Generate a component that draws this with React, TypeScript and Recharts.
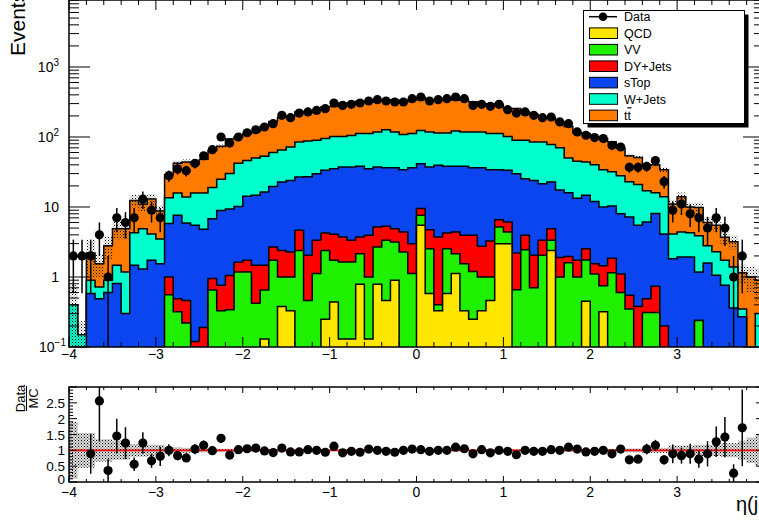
import React from "react";
import {
  ComposedChart, Area, Scatter, ErrorBar, XAxis, YAxis, ReferenceArea, ReferenceLine,
} from "recharts";

// 80 bins of 0.1 in eta(jet), from -4 to 4
const binLow = -4;
const binWidth = 0.1;

// stacked MC contributions per bin (bottom -> top)
const qcd = [
  0, 0, 0, 0, 0, 0, 0, 0, 0, 0,
  0, 0, 0, 0, 0, 0, 0, 0, 0, 0,
  0, 0, 0.13, 0, 0.38, 0.33, 0, 0, 0, 0.25,
  0.44, 0.13, 0.13, 0.79, 0.13, 0.79, 0.46, 0.9, 0, 0,
  5.47, 0.58, 0.33, 0.58, 1.12, 0.33, 0.25, 0.33, 0.46, 2.99,
  2.99, 0, 0, 0, 0, 2.4, 0, 0, 0, 0.45,
  0, 0.32, 0, 0, 0, 0, 0, 0, 0, 0,
  0, 0, 0, 0, 0, 0, 0, 0, 0, 0,
];
const vv = [
  0, 0, 0, 0, 0, 0, 0, 0, 0, 0,
  0, 0.56, 0.32, 0.22, 0, 0, 0.65, 0.33, 0.34, 1.18,
  1.18, 0.42, 0.52, 1.73, 0.62, 0.67, 2.4, 0.46, 1.12, 2.15,
  1.29, 1.51, 1.51, 1.36, 0.87, 1.89, 2.88, 2.26, 2.28, 1.12,
  2.13, 1.96, 0.07, 1.96, 1.03, 1.22, 0.95, 0.67, 0.54, 2.21,
  1.41, 0.66, 2.45, 0.7, 2.04, 0.94, 1.0, 1.6, 1.0, 1.3,
  1.1, 0.43, 1.15, 0.6, 0.35, 0, 0.31, 0.31, 0, 0,
  0, 0, 0.24, 0, 0, 0, 0, 0, 0, 0,
];
const dyJets = [
  0, 0, 0, 0, 0, 0, 0, 0, 0, 0,
  0, 0.44, 0.17, 0.24, 0.12, 0.19, 0.3, 0.43, 0.71, 0.45,
  0.55, 1.05, 0.82, 0.95, 1.4, 1.28, 2.24, 1.58, 2.22, 1.85,
  2.34, 2.09, 1.7, 1.58, 2.94, 2.5, 1.96, 1.74, 2.12, 1.87,
  1.9, 2.2, 3.33, 1.71, 2.25, 2.39, 2.74, 1.74, 2.27, 1.4,
  1.7, 1.54, 1.49, 1.34, 1.3, 1.56, 0.9, 0.37, 0.73, 0.79,
  0.45, 0.7, 0.7, 0.5, 0.2, 0.38, 0.18, 0.43, 0.2, 0,
  0, 0, 0, 0, 0, 0, 0, 0, 0, 0,
];
const sTop = [
  0, 0, 0.58, 0.49, 0.6, 0.81, 0.3, 1.47, 1.3, 1.73,
  1.55, 4.8, 7.11, 5.44, 5.38, 4.61, 5.85, 8.14, 8.35, 8.57,
  12.47, 13.23, 14.93, 17.02, 20.3, 21.72, 22.16, 24.96, 26.56, 29.15,
  31.23, 33.57, 33.96, 34.37, 31.36, 32.12, 31.2, 31.6, 29.7, 33.51,
  32.1, 32.56, 35.67, 33.85, 33.7, 34.16, 32.56, 33.76, 30.83, 27.5,
  27.3, 27.7, 21.46, 21.96, 18.16, 17.8, 15.6, 14.03, 11.57, 12.16,
  10.45, 8.55, 8.45, 6.9, 6.65, 5.12, 5.61, 7.36, 3.9, 1.83,
  1.93, 1.93, 0.94, 1.59, 1.06, 0.76, 0.36, 0.27, 0, 0,
];
const wJets = [
  0.4, 0.15, 0.32, 0.23, 0.3, 0.66, 0.88, 2.83, 3.6, 2.37,
  1.95, 7.8, 8.2, 8.0, 10.3, 11.0, 12.2, 16.1, 20.6, 31.8,
  31.8, 35.3, 36.6, 40.3, 42.3, 48, 58.2, 61, 60.1, 61.6,
  66.7, 64.7, 67.7, 73.9, 76.7, 80.7, 90.5, 81.5, 74.9, 75.5,
  82.4, 80.7, 74.6, 75.9, 83.9, 79.9, 81.5, 81.5, 77.9, 77.9,
  68.6, 60.1, 64.6, 61, 63.5, 55.3, 52.5, 34, 31.7, 29.3,
  28, 24, 21.7, 20, 15.8, 15.5, 10.9, 7.9, 9.9, 2.27,
  2.47, 2.37, 2.72, 1.21, 1.24, 0.97, 1.03, 0.08, 0, 0.3,
];
const ttbar = [
  0, 0, 1.3, 0.83, 1.9, 3.43, 3.72, 8.1, 6.1, 8.9,
  5.3, 15.4, 26.2, 30.1, 25.2, 32.2, 45, 49, 64, 58,
  64, 69, 88, 106, 125, 127, 145, 136, 150, 175,
  170, 204, 197, 213, 202, 223, 210, 218, 207, 227,
  242, 219, 227, 239, 217, 218, 200, 169, 186, 181,
  152, 166, 138, 125, 110, 111, 94, 91, 68, 68,
  61, 61, 53, 41, 31, 30, 23, 24, 20, 6.9,
  9.6, 5.7, 5.9, 3.2, 3.2, 1.97, 1.81, 0.8, 1.0, 0.6,
];
// observed events per bin
const dataCounts = [
  2, 2, 2, 4, 1, 7, 6, 7, 13, 9,
  7, 28, 35, 33, 42, 54, 66, 100, 82, 100,
  115, 127, 139, 155, 204, 189, 220, 228, 240, 254,
  306, 283, 293, 306, 327, 341, 327, 316, 316, 353,
  373, 327, 341, 353, 373, 353, 283, 293, 274, 293,
  246, 220, 228, 204, 189, 193, 164, 155, 118, 106,
  98, 95, 76, 72, 37, 37, 38, 46, 23, 9,
  11, 8, 7, 5, 7, 5, 1, 2, 0, 0,
];
// Data/MC as drawn in the lower pad (null = off scale)
const ratio: (number | null)[] = [
  null, null, 0.89, 2.56, 0.36, 1.45, 1.23, 0.56, 1.23, 0.67,
  0.81, 1.0, 0.83, 0.76, 1.04, 1.16, 0.99, 1.38, 0.85, 1.02,
  1.05, 1.07, 0.98, 0.93, 1.07, 0.95, 0.95, 1.02, 1.0, 0.94,
  1.13, 0.92, 0.97, 0.94, 1.04, 1.0, 0.97, 0.94, 1.0, 1.04,
  1.02, 0.97, 1.0, 1.0, 1.1, 1.05, 0.89, 1.02, 0.92, 1.0,
  0.97, 0.86, 1.0, 0.97, 0.97, 1.02, 1.0, 1.1, 1.04, 0.95,
  0.97, 1.0, 0.89, 1.04, 0.7, 0.72, 1.04, 1.16, 0.7, 0.89,
  0.83, 0.89, 0.72, 0.89, 1.27, 1.42, 0.28, 1.71, null, null,
];
// relative MC uncertainty (hatched band)
const mcUnc = [
  0.9, 0.55, 0.55, 0.35, 0.35, 0.3, 0.3, 0.2, 0.2, 0.18,
  0.18, 0.1, 0.1, 0.08, 0.08, 0.06, 0.06, 0.05, 0.05, 0.04,
  0.03, 0.03, 0.03, 0.03, 0.03, 0.03, 0.03, 0.03, 0.03, 0.03,
  0.03, 0.03, 0.03, 0.03, 0.03, 0.03, 0.03, 0.03, 0.03, 0.03,
  0.03, 0.03, 0.03, 0.03, 0.03, 0.03, 0.03, 0.03, 0.03, 0.03,
  0.03, 0.03, 0.03, 0.03, 0.03, 0.03, 0.03, 0.03, 0.03, 0.04,
  0.04, 0.04, 0.04, 0.04, 0.06, 0.06, 0.08, 0.08, 0.08, 0.15,
  0.15, 0.15, 0.18, 0.18, 0.18, 0.22, 0.22, 0.3, 0.4, 0.5,
];

const samples = [
  { name: "QCD", values: qcd, color: "#ffe600" },
  { name: "VV", values: vv, color: "#1ef000" },
  { name: "DY+Jets", values: dyJets, color: "#ff0000" },
  { name: "sTop", values: sTop, color: "#0a45f0" },
  { name: "W+Jets", values: wJets, color: "#00ffcc" },
  { name: "tt", values: ttbar, color: "#ff7a00" },
];

const FONT = '"Liberation Sans", Arial, Helvetica, sans-serif';
const X0 = 69;
const X1 = 764;
const M_TOP = 0;
const M_BOT = 347;
const R_TOP = 7;
const R_BOT = 102;
const Y_MIN = 0.1;
const Y_MAX = 9060;
const FLOOR = 1e-3;
const nBins = dataCounts.length;

const edge = (k: number) => Math.round((binLow + k * binWidth) * 10) / 10;
const center = (i: number) => Math.round((binLow + (i + 0.5) * binWidth) * 100) / 100;

// step rows at bin low edges, plus closing edge
const rows = Array.from({ length: nBins + 1 }, (_, k) => {
  const i = Math.min(k, nBins - 1);
  const row: any = { x: edge(k) };
  let cum = 0;
  samples.forEach((s, j) => {
    cum += s.values[i];
    row["c" + j] = Math.max(cum, FLOOR);
  });
  const u = mcUnc[i];
  row.band = [Math.max(cum * (1 - u), FLOOR), Math.max(cum * (1 + u), FLOOR)];
  row.rband = [1 - u, 1 + u];
  return row;
});

// error bars stop at the bottom of the log pad
const points = dataCounts
  .map((d, i) => (d > 0 ? { x: center(i), y: d, err: [Math.min(Math.sqrt(d), d - Y_MIN), Math.sqrt(d)] } : null))
  .filter(Boolean);

const ratioPoints = ratio
  .map((r, i) => {
    if (r == null) return null;
    const e = r / Math.sqrt(dataCounts[i]);
    return { x: center(i), y: r, err: [Math.min(e, r), Math.min(e, 3 - r)] };
  })
  .filter(Boolean);

const xTicks = Array.from({ length: 41 }, (_, k) => edge(2 * k));
const yTicks: number[] = [];
[0.1, 1, 10, 100, 1000].forEach((d) => {
  for (let m = 1; m <= 9; m++) {
    const v = +(d * m).toPrecision(3);
    if (v <= Y_MAX) yTicks.push(v);
  }
});
const rTicks = Array.from({ length: 31 }, (_, k) => k / 10);

const isInt = (v: number) => Math.abs(v - Math.round(v)) < 1e-6;
const fmtX = (v: number) => (v < 0 ? "\u2212" + Math.abs(v) : String(v));

const yLabels: Record<string, [string, string]> = {
  "0.1": ["10", "\u22121"],
  "1": ["1", ""],
  "10": ["10", ""],
  "100": ["10", "2"],
  "1000": ["10", "3"],
};

const MainXTick = (p: any) => {
  const v = p.payload.value;
  const x = p.x;
  const major = isInt(v);
  const len = major ? 10 : 5;
  return (
    <g>
      <line x1={x} x2={x} y1={M_BOT} y2={M_BOT - len} stroke="#000" />
      <line x1={x} x2={x} y1={M_TOP} y2={M_TOP + len} stroke="#000" />
      {major && v < 4 && (
        <text x={x} y={359} textAnchor="middle" fontSize={14} fontFamily={FONT}>{fmtX(v)}</text>
      )}
    </g>
  );
};

const MainYTick = (p: any) => {
  const v = p.payload.value;
  const y = p.y;
  const lab = yLabels[String(v)];
  const len = lab ? 21 : 10;
  return (
    <g>
      <line x1={X0} x2={X0 + len} y1={y} y2={y} stroke="#000" />
      <line x1={X1} x2={X1 - len} y1={y} y2={y} stroke="#000" />
      {lab && (
        <text x={v === 0.1 ? 66 : 59} y={y + 5} textAnchor="end" fontSize={14} fontFamily={FONT}>
          {lab[0]}
          {lab[1] && <tspan dy={-6} fontSize={10}>{lab[1]}</tspan>}
        </text>
      )}
    </g>
  );
};

const RatioXTick = (p: any) => {
  const v = p.payload.value;
  const x = p.x;
  const major = isInt(v);
  const len = major ? 6 : 3;
  return (
    <g>
      <line x1={x} x2={x} y1={R_BOT} y2={R_BOT - len} stroke="#000" />
      <line x1={x} x2={x} y1={R_TOP} y2={R_TOP + len} stroke="#000" />
      {major && v < 4 && (
        <text x={x} y={117} textAnchor="middle" fontSize={14} fontFamily={FONT}>{fmtX(v)}</text>
      )}
    </g>
  );
};

const RatioYTick = (p: any) => {
  const v = p.payload.value;
  const y = p.y;
  const major = isInt(v * 2);
  const len = major ? 8 : 4;
  return (
    <g>
      <line x1={X0} x2={X0 + len} y1={y} y2={y} stroke="#000" />
      <line x1={X1} x2={X1 - len} y1={y} y2={y} stroke="#000" />
      {major && v < 3 && (
        <text x={65} y={v === 0 ? y + 2 : y + 5} textAnchor="end" fontSize={13.5} fontFamily={FONT}>{String(v)}</text>
      )}
    </g>
  );
};

const Dot = (p: any) => <circle cx={p.cx} cy={p.cy} r={4.6} fill="#000" />;

function Legend() {
  const rowY = [6.7, 23.2, 39.7, 56.2, 72.6, 89, 105.4];
  return (
    <svg width={175} height={125} style={{ position: "absolute", left: 583, top: 10 }}>
      <rect x={4.5} y={4.5} width={161} height={113} fill="#000" />
      <rect x={0.5} y={0.5} width={161} height={113} fill="#fff" stroke="#000" />
      <line x1={6} x2={34} y1={rowY[0]} y2={rowY[0]} stroke="#000" strokeWidth={1.5} />
      <circle cx={20} cy={rowY[0]} r={4.3} fill="#000" />
      <text x={41} y={rowY[0] + 4.5} fontSize={12.5} fontFamily={FONT}>Data</text>
      {samples.map((s, j) => {
        const cy = rowY[j + 1];
        return (
          <g key={s.name}>
            <rect x={6.5} y={cy - 5.3} width={28} height={10.6} fill={s.color} stroke="#000" />
            <text x={41} y={cy + 4.5} fontSize={12.5} fontFamily={FONT}>{s.name}</text>
          </g>
        );
      })}
      <line x1={44.4} x2={48.4} y1={rowY[6] - 7.6} y2={rowY[6] - 7.6} stroke="#000" strokeWidth={1.2} />
    </svg>
  );
}

export default function App() {
  const order = [5, 4, 3, 2, 1, 0];
  return (
    <div style={{ position: "absolute", left: 0, top: 0, width: 759, height: 521, overflow: "hidden", background: "#fff" }}>
      <svg width={759} height={521} style={{ position: "absolute", left: 0, top: 0 }}>
        <defs>
          <pattern id="hatch" width={3} height={3} patternUnits="userSpaceOnUse">
            <rect x={0} y={0} width={1} height={1} fill="#000" />
            <rect x={1.5} y={1.5} width={1} height={1} fill="#555" />
          </pattern>
          <pattern id="hatchR" width={3} height={3} patternUnits="userSpaceOnUse">
            <rect x={0} y={0} width={3} height={3} fill="#ddd" />
            <rect x={0} y={0} width={1} height={1} fill="#000" />
            <rect x={1.5} y={1.5} width={1} height={1} fill="#444" />
          </pattern>
        </defs>
        <text transform="translate(25,56) rotate(-90)" fontSize={21} fontFamily={FONT}>Events</text>
        <text transform="translate(25,398.5) rotate(-90)" textAnchor="middle" fontSize={13} fontFamily={FONT}>Data</text>
        <line x1={26.5} x2={26.5} y1={386} y2={411} stroke="#000" />
        <text transform="translate(37.5,398.5) rotate(-90)" textAnchor="middle" fontSize={13} fontFamily={FONT}>MC</text>
        <text x={736} y={511} fontSize={20} fontFamily={FONT}>η(jet)</text>
      </svg>

      <div style={{ position: "absolute", left: 0, top: 0 }}>
        <ComposedChart width={800} height={400} data={rows} margin={{ top: M_TOP, right: 800 - X1, bottom: 23, left: 0 }}>
          {order.map((j) => (
            <Area
              key={j}
              type="stepAfter"
              dataKey={"c" + j}
              fill={samples[j].color}
              fillOpacity={1}
              stroke="#000"
              strokeWidth={1.5}
              baseValue={Y_MIN}
              dot={false}
              activeDot={false}
              isAnimationActive={false}
            />
          ))}
          <Area type="stepAfter" dataKey="band" fill="url(#hatch)" fillOpacity={1} stroke="none" dot={false} activeDot={false} isAnimationActive={false} />
          <Scatter data={points as any[]} dataKey="y" shape={Dot} isAnimationActive={false}>
            <ErrorBar dataKey="err" direction="y" width={0} stroke="#000" strokeWidth={1.5} isAnimationActive={false} />
          </Scatter>
          <ReferenceArea x1={-4} x2={4} y1={Y_MIN} y2={Y_MAX} fill="none" stroke="#000" strokeWidth={1.5} ifOverflow="visible" />
          <XAxis type="number" dataKey="x" domain={[-4, 4]} ticks={xTicks} interval={0} allowDataOverflow axisLine={false} tickLine={false} tick={MainXTick} height={30} />
          <YAxis scale="log" domain={[Y_MIN, Y_MAX]} ticks={yTicks} interval={0} allowDataOverflow axisLine={false} tickLine={false} tick={MainYTick} width={X0} />
        </ComposedChart>
      </div>

      <div style={{ position: "absolute", left: 0, top: 380 }}>
        <ComposedChart width={800} height={141} data={rows} margin={{ top: R_TOP, right: 800 - X1, bottom: 9, left: 0 }}>
          <Area type="stepAfter" dataKey="rband" fill="url(#hatchR)" fillOpacity={1} stroke="none" dot={false} activeDot={false} isAnimationActive={false} />
          <ReferenceLine y={1} stroke="#ff0000" strokeWidth={1.8} />
          <Scatter data={ratioPoints as any[]} dataKey="y" shape={Dot} isAnimationActive={false}>
            <ErrorBar dataKey="err" direction="y" width={0} stroke="#000" strokeWidth={1.5} isAnimationActive={false} />
          </Scatter>
          <ReferenceArea x1={-4} x2={4} y1={0} y2={3} fill="none" stroke="#000" strokeWidth={1.5} ifOverflow="visible" />
          <XAxis type="number" dataKey="x" domain={[-4, 4]} ticks={xTicks} interval={0} allowDataOverflow axisLine={false} tickLine={false} tick={RatioXTick} height={30} />
          <YAxis type="number" domain={[0, 3]} ticks={rTicks} interval={0} allowDataOverflow axisLine={false} tickLine={false} tick={RatioYTick} width={X0} />
        </ComposedChart>
      </div>

      <Legend />
    </div>
  );
}
